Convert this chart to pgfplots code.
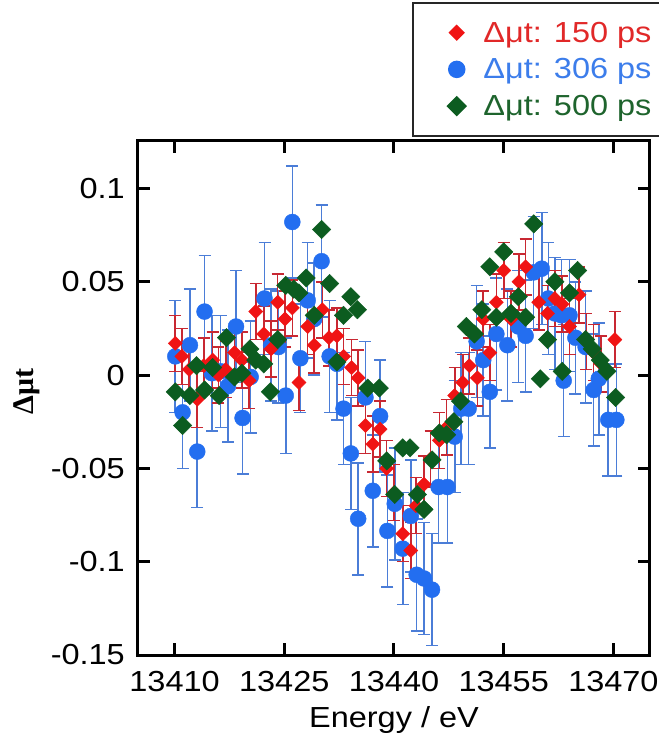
\documentclass[border=0pt]{standalone}
\usepackage{pgfplots}
\pgfplotsset{compat=1.18}
\usepackage{fontspec}
\setmainfont[FakeStretch=1.12]{Liberation Sans}
\newfontfamily\serifb{Liberation Serif}
\definecolor{cred}{RGB}{240,20,20}
\definecolor{credbar}{RGB}{200,40,50}
\definecolor{cblue}{RGB}{35,110,240}
\definecolor{cbluebar}{RGB}{75,125,215}
\definecolor{cgreen}{RGB}{12,92,32}
\definecolor{ctred}{RGB}{225,40,40}
\definecolor{ctblue}{RGB}{60,125,235}
\definecolor{ctgreen}{RGB}{30,100,45}
\pgfplotsset{myleg/.style={legend image code/.code={\path (0pt,0pt) (60pt,0pt); \draw[##1] plot coordinates {(36pt,0pt)};}}}
\begin{document}
\begin{tikzpicture}[font=\fontsize{29}{34}\selectfont]
\begin{axis}[
 width=512pt, height=514pt, scale only axis,
 xmin=13405, xmax=13475, ymin=-0.15, ymax=0.1254,
 scaled x ticks=false, scaled y ticks=false,
 xtick={13410,13425,13440,13455,13470},
 xticklabels={13410,13425,13440,13455,13470},
 ytick={-0.15,-0.1,-0.05,0,0.05,0.1},
 yticklabels={-0.15,-0.1,-0.05,0,0.05,0.1},
 tick align=inside, major tick length=12pt,
 tick style={line width=3pt, black},
 axis line style={line width=3pt},
 xticklabel style={inner sep=0pt, anchor=north, yshift=-16pt},
 yticklabel style={inner sep=0pt, anchor=east, xshift=-13pt},
 xlabel={Energy / eV},
 ylabel={Δμt},
 xlabel style={at={(axis description cs:0.5,-0.1265)}, anchor=center, inner sep=0pt},
 ylabel style={at={(axis description cs:-0.217,0.512)}, anchor=center, inner sep=0pt,
   font=\serifb\bfseries\fontsize{30}{32}\selectfont},
 legend style={at={(axis description cs:1.022,1.2704)}, anchor=north east,
   draw=black!85, line width=1.5pt, inner xsep=7pt, inner ysep=17pt,
   row sep=11pt, font=\fontsize{29}{31}\selectfont},
 legend cell align=left,
 error bars/error bar style={line width=1.8pt},
]
\addlegendimage{myleg, mark=square*, mark size=5pt, mark options={rotate=45, draw=cred, fill=cred}}
\addlegendentry{\textcolor{ctred}{Δμt: 150 ps}}
\addlegendimage{myleg, mark=*, mark size=8pt, mark options={draw=cblue, fill=cblue}}
\addlegendentry{\textcolor{ctblue}{Δμt: 306 ps}}
\addlegendimage{myleg, mark=square*, mark size=6.5pt, mark options={rotate=45, draw=cgreen, fill=cgreen}}
\addlegendentry{\textcolor{ctgreen}{Δμt: 500 ps}}

% 306 ps (blue)
\addplot[only marks, mark=*, mark size=8pt, color=cblue, forget plot,
  error bars/.cd, y dir=both, y explicit,
  error bar style={color=cbluebar, line width=1.6pt},
  error mark options={rotate=90, mark size=6pt, line width=1.6pt, color=cbluebar}]
table[x=x, y=y, y error=e] {
x y e
13410.1 0.010 0.030
13411.1 -0.020 0.030
13412.1 0.016 0.030
13413.1 -0.041 0.030
13414.1 0.034 0.030
13415.1 0.001 0.031
13416.3 0.002 0.030
13417.3 -0.006 0.030
13418.4 0.026 0.030
13419.3 -0.023 0.030
13420.4 -0.001 0.030
13422.3 0.041 0.030
13423.2 0.016 0.030
13424.2 0.015 0.030
13425.2 -0.011 0.031
13426.1 0.082 0.030
13427.2 0.009 0.029
13428.2 0.040 0.031
13429.1 0.030 0.030
13430.1 0.061 0.030
13431.2 0.010 0.030
13432.2 0.006 0.030
13433.1 -0.018 0.030
13434.1 -0.042 0.030
13435.1 -0.077 0.030
13436.1 -0.012 0.030
13437.1 -0.062 0.030
13438.1 -0.022 0.030
13439.1 -0.0835 0.030
13440.1 -0.069 0.030
13441.2 -0.093 0.030
13442.3 -0.0755 0.030
13443.1 -0.107 0.030
13444.1 -0.109 0.030
13445.2 -0.115 0.030
13446.1 -0.060 0.030
13447.3 -0.060 0.030
13448.3 -0.033 0.030
13449.2 -0.018 0.030
13450.2 -0.018 0.030
13451.3 0.018 0.030
13452.2 0.008 0.030
13453.1 -0.009 0.030
13454.0 0.022 0.030
13455.5 0.016 0.030
13457.0 0.026 0.030
13458.0 0.021 0.030
13459.1 0.055 0.030
13460.2 0.057 0.030
13461.1 0.041 0.030
13462.0 0.033 0.030
13462.9 0.032 0.030
13463.2 -0.003 0.030
13464.0 0.032 0.030
13464.8 0.020 0.030
13466.2 0.015 0.030
13467.3 -0.008 0.030
13468.0 -0.002 0.030
13469.3 -0.024 0.030
13470.4 -0.024 0.030
};

% 150 ps (red)
\addplot[only marks, mark=square*, mark size=5pt, mark options={rotate=45}, color=cred, forget plot,
  error bars/.cd, y dir=both, y explicit,
  error bar style={color=credbar, line width=1.6pt},
  error mark options={rotate=90, mark size=6pt, line width=1.6pt, color=credbar}]
table[x=x, y=y, y error=e] {
x y e
13410.1 0.017 0.015
13411.0 0.010 0.015
13412.0 0.003 0.015
13413.1 -0.013 0.015
13414.0 0.005 0.015
13415.2 0.008 0.015
13416.0 0.000 0.015
13417.0 0.003 0.015
13418.2 0.012 0.015
13419.2 0.008 0.015
13420.2 -0.003 0.015
13421.1 0.034 0.015
13422.2 0.022 0.015
13423.2 0.014 0.015
13424.1 0.039 0.015
13425.1 0.030 0.015
13426.1 0.036 0.015
13427.0 -0.004 0.015
13428.2 0.026 0.015
13429.1 0.016 0.015
13430.2 0.035 0.015
13431.1 0.020 0.015
13432.2 0.021 0.015
13433.1 0.010 0.015
13434.2 0.004 0.015
13435.1 -0.0015 0.015
13436.1 -0.027 0.015
13437.1 -0.037 0.015
13438.1 -0.029 0.015
13439.0 -0.050 0.015
13440.0 -0.063 0.015
13441.2 -0.085 0.015
13442.3 -0.094 0.015
13443.0 -0.070 0.015
13444.1 -0.0585 0.015
13445.0 -0.045 0.015
13446.2 -0.035 0.015
13447.2 -0.028 0.015
13448.3 -0.011 0.015
13449.4 -0.004 0.015
13450.3 0.005 0.015
13451.4 -0.0015 0.015
13452.2 0.030 0.015
13453.1 0.012 0.015
13454.0 0.039 0.015
13455.0 0.056 0.015
13456.0 0.030 0.015
13457.1 0.050 0.015
13458.0 0.058 0.015
13459.8 0.039 0.015
13461.0 0.033 0.015
13462.0 0.041 0.015
13463.0 0.038 0.015
13464.0 0.026 0.015
13465.3 0.043 0.015
13466.3 0.018 0.015
13467.3 0.012 0.015
13468.3 0.006 0.015
13470.2 0.019 0.015
};

% 500 ps (green)
\addplot[only marks, mark=square*, mark size=6.5pt, mark options={rotate=45}, color=cgreen, forget plot]
table[x=x, y=y] {
x y
13410.1 -0.009
13411.1 -0.027
13412.1 -0.011
13413.0 0.005
13414.1 -0.008
13415.2 0.004
13416.1 -0.011
13417.1 0.020
13418.2 -0.001
13419.2 0.001
13420.3 0.014
13421.1 0.008
13422.2 0.006
13423.1 -0.009
13424.1 0.019
13425.2 0.048
13426.3 0.046
13427.0 0.044
13428.0 0.052
13429.1 0.032
13430.1 0.078
13431.2 0.049
13432.2 0.007
13433.1 0.032
13434.1 0.042
13435.0 0.035
13436.4 -0.007
13438.0 -0.007
13439.0 -0.046
13440.1 -0.064
13441.2 -0.039
13442.2 -0.039
13443.2 -0.064
13444.1 -0.072
13445.2 -0.0455
13446.2 -0.031
13447.2 -0.032
13448.2 -0.025
13449.1 -0.014
13449.9 0.026
13451.0 0.022
13452.0 0.035
13453.1 0.058
13454.0 0.031
13455.0 0.066
13456.0 0.033
13457.0 0.042
13458.0 0.031
13459.1 0.081
13460.0 -0.002
13461.0 0.019
13462.0 0.050
13463.0 0.002
13464.0 0.044
13465.1 0.056
13466.2 0.019
13467.1 0.014
13468.2 0.008
13469.1 0.002
13470.3 -0.012
};
\end{axis}
\pgfresetboundingbox
\path ([xshift=-138pt,yshift=-93pt]current axis.south west) rectangle ([xshift=9pt,yshift=141pt]current axis.north east);
\end{tikzpicture}
\end{document}
